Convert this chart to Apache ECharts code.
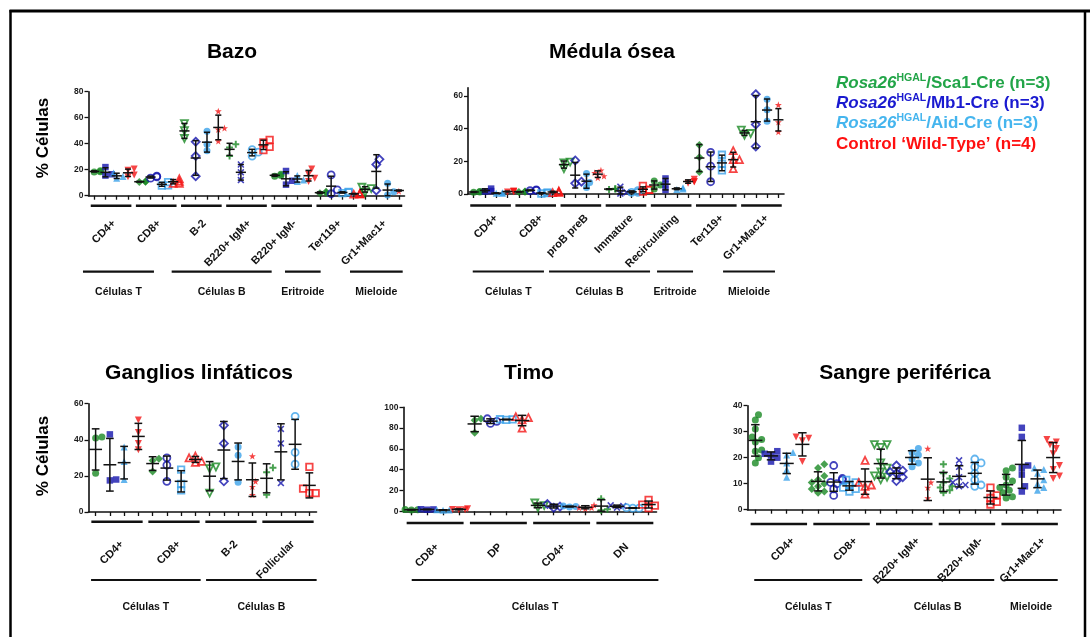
<!DOCTYPE html>
<html>
<head>
<meta charset="utf-8">
<script src="https://cdn.jsdelivr.net/npm/echarts@6/dist/echarts.min.js"></script>
<style>
  html, body { margin: 0; padding: 0; background: #fff; }
  #chart { width: 1090px; height: 637px; }
</style>
</head>
<body>
<div id="chart"></div>
<script>
// ---------- genotypes ----------
const genotypeColors = ['#1a8a24', '#1414ad', '#3ca2ea', '#f41616'];
const legendColors = ['#22a548', '#1a1ad0', '#45b5ee', '#ff1010'];
const legendGenotypes = ['/Sca1-Cre (n=3)', '/Mb1-Cre (n=3)', '/Aid-Cre (n=3)'];
const legendControl = 'Control \u2018Wild-Type\u2019 (n=4)';

// ---------- Bazo ----------
const bazoPopulations = ['CD4+', 'CD8+', 'B-2', 'B220+ IgM+', 'B220+ IgM-', 'Ter119+', 'Gr1+Mac1+'];
const bazoSca1 = [[18.5, 19.2, 18.3], [11, 10.5, 10.8], [55.5, 50, 44], [39.5, 37, 30.5], [16.5, 15.5, 15], [3, 1.8, 2.2], [6.5, 5.5, 2.5]];
const bazoMb1 = [[22, 15.5, 16.5], [15, 13.5, 14.5], [41.5, 30.5, 15], [24, 18, 12], [19, 11.5, 8.5], [16, 4.5, 1.5], [28, 24, 4]];
const bazoAid = [[17.5, 13.5, 14.8], [10.5, 8, 7.8], [49.5, 39.5, 34.5], [35.5, 33.5, 30.5], [15.5, 12, 11], [2.5, 2, 3], [9.5, 3, 0.5]];
const bazoWt = [[20.5, 16, 14.5, 19.5], [13, 11, 9.5, 9.5], [65, 52, 42, 51], [43, 41, 35, 37.5], [20.5, 16.5, 13.5, 11], [1.5, 1.2, 1.8, 1.4], [4, 3.5, 4.5, 4]];
const bazoYTicks = [0, 20, 40, 60, 80];
const bazoLineages = ['Células T', 'Células B', 'Eritroide', 'Mieloide'];
const bazoLineageCols = [[-0.99, 5.3], [6.87, 15.73], [16.91, 20.07], [22.67, 27.34]];

// ---------- Médula ósea ----------
const medPopulations = ['CD4+', 'CD8+', 'proB preB', 'Immature', 'Recirculating', 'Ter119+', 'Gr1+Mac1+'];
const medSca1 = [[1, 1.5, 1.2], [1.5, 1.2, 1.3], [19.5, 19, 15.5], [3, 3.2, 2.8], [8, 5.5, 3], [30, 22.5, 13.5], [39, 37, 36]];
const medMb1 = [[3.3, 1.5, 1.8], [2.5, 2, 2.2], [20.5, 7.5, 6.5], [4.5, 1, 0.3], [9.5, 6, 2.5], [25.5, 17, 7.5], [61, 42.5, 29]];
const medAid = [[0.5, 0.4, 0.7], [0.8, 0.3, 0.6], [12.5, 7, 4], [2, 1, 1], [3.8, 3, 2.8], [24, 18.5, 14.5], [58, 51.5, 44.5]];
const medWt = [[1.8, 1.2, 1.5, 1.4], [1.8, 1, 0.8, 1.3], [14.5, 13, 11, 10], [5, 2.5, 1.5, 2.5], [9, 7.5, 6.5, 7.5], [26.5, 21, 15.5, 21], [54.5, 45, 44, 38]];
const medYTicks = [0, 20, 40, 60];
const medLineages = ['Células T', 'Células B', 'Eritroide', 'Mieloide'];
const medLineageCols = [[-0.08, 6.23], [6.68, 15.63], [16.25, 19.44], [22.1, 26.7]];

// ---------- Ganglios linfáticos ----------
const ganPopulations = ['CD4+', 'CD8+', 'B-2', 'Follicular'];
const ganSca1 = [[41.5, 41, 21.5], [29.5, 28.5, 22.5], [25, 24, 10.5], [24.5, 22, 9.5]];
const ganMb1 = [[43, 17.5, 18], [30, 26, 17], [48, 38, 17], [46, 38, 16]];
const ganAid = [[36, 28, 18], [23.5, 15.5, 12], [36, 31.5, 16.5], [53, 33, 26.5]];
const ganWt = [[51, 44, 38, 34.5], [31, 30, 28, 27.5], [31, 17, 14, 9.5], [25, 13, 10.5, 10.5]];
const ganYTicks = [0, 20, 40, 60];
const ganLineages = ['Células T', 'Células B'];
const ganLineageCols = [[-0.32, 7.37], [7.75, 15.51]];

// ---------- Timo ----------
const timPopulations = ['CD8+', 'DP', 'CD4+', 'DN'];
const timSca1 = [[1.5, 1.2, 1.8], [89, 87.5, 75.5], [8, 5.5, 3.5], [12, 2, 1]];
const timMb1 = [[2, 1.5, 1.8], [89, 86.5, 84.5], [7, 4.5, 3.5], [5.8, 5, 3.5]];
const timAid = [[1, 1.5, 1.2], [88.5, 88, 88.3], [5, 4.2, 4.5], [3.5, 3, 3]];
const timWt = [[2.5, 1.5, 1.8, 1.6], [91, 90, 88, 80], [6, 3.5, 2.5, 3.5], [11, 6.5, 5.5, 3]];
const timYTicks = [0, 20, 40, 60, 80, 100];
const timLineages = ['Células T'];
const timLineageCols = [[0.02, 15.62]];

// ---------- Sangre periférica ----------
const sanPopulations = ['CD4+', 'CD8+', 'B220+ IgM+', 'B220+ IgM-', 'Gr1+Mac1+'];
const sanSca1 = [
  [36.5, 34.5, 31, 28, 27, 26, 23, 22.5, 20, 18],
  [17.5, 16, 13, 11.5, 10.5, 10, 9, 8, 7, 6.5],
  [25, 25, 24, 18, 16, 14.5, 13, 12.5, 11.5],
  [17.5, 14, 12, 10.5, 9, 8.5, 7.5, 6.5],
  [16, 15, 12.5, 11, 9.5, 8.5, 7.5, 6.5, 5, 4.5]
];
const sanMb1 = [
  [22.5, 21.5, 21, 20, 18.5],
  [17, 12, 11.5, 10.5, 10, 8, 5.5],
  [17, 15, 14.5, 14, 12.5, 11],
  [19, 16.5, 12.5, 10.5, 9.5, 9],
  [31.5, 28, 17, 16, 13.5, 9, 7]
];
const sanAid = [
  [22, 21, 18, 15.5, 12.5],
  [11.5, 10.5, 9.5, 8.5, 8, 7],
  [23.5, 22, 21, 19.5, 18, 16.5],
  [19.5, 18, 16.5, 14, 11.5, 9.5, 9],
  [16, 15.5, 14, 11.5, 10, 8.5, 7.5]
];
const sanWt = [
  [28, 27.5, 26.5, 18.5],
  [19, 10.5, 9.5, 9, 6],
  [23.5, 10.5, 8.5, 4.5],
  [8.5, 5.5, 4.5, 3, 2],
  [27, 26, 25, 23.5, 21.5, 17, 15.5, 13, 12]
];
const sanYTicks = [0, 10, 20, 30, 40];
const sanLineages = ['Células T', 'Células B', 'Mieloide'];
const sanLineageCols = [[-0.07, 6.82], [8.02, 15.24], [15.88, 19.29]];

// ---------- styling ----------
const FONT = '"Liberation Sans", Arial, Helvetica, sans-serif';
const INK = '#111';

// marker cycle, one entry per column (repeats every 16 columns)
const INV_TRI = 'path://M0,0L10,0L5,9Z';
const STAR = 'path://M5,0L6.2,3.6L10,3.6L7,5.9L8.1,9.5L5,7.3L1.9,9.5L3,5.9L0,3.6L3.8,3.6Z';
const PLUS = 'path://M3.6,0H6.4V3.6H10V6.4H6.4V10H3.6V6.4H0V3.6H3.6Z';
const CROSS = 'path://M1.6,0L5,3.4L8.4,0L10,1.6L6.6,5L10,8.4L8.4,10L5,6.6L1.6,10L0,8.4L3.4,5L0,1.6Z';
const markers = [
  ['circle', true], ['rect', true], ['triangle', true], [INV_TRI, true],
  ['diamond', true], ['circle', false], ['rect', false], ['triangle', false],
  [INV_TRI, false], ['diamond', false], ['circle', true], [STAR, true],
  [PLUS, true], [CROSS, true], ['circle', false], ['rect', false]
];

const panels = [
  { title: 'Bazo', titlePos: [232, 52], yName: [43, 138],
    populations: bazoPopulations, values: [bazoSca1, bazoMb1, bazoAid, bazoWt],
    yMax: 80, yTicks: bazoYTicks, lineages: bazoLineages, lineageCols: bazoLineageCols,
    grid: { left: 88.5, top: 91.7, width: 316, height: 104 },
    barDy: 10, labelDx: 3, labelDy: 26, lineDy: 76, lineLabelDy: 96 },
  { title: 'Médula ósea', titlePos: [612, 52], yName: null,
    populations: medPopulations, values: [medSca1, medMb1, medAid, medWt],
    yMax: 65, yTicks: medYTicks, lineages: medLineages, lineageCols: medLineageCols,
    grid: { left: 468, top: 87.7, width: 316, height: 106.3 },
    barDy: 11.5, labelDx: 5.5, labelDy: 22.5, lineDy: 77.5, lineLabelDy: 98 },
  { title: 'Ganglios linfáticos', titlePos: [199, 373], yName: [43, 456],
    populations: ganPopulations, values: [ganSca1, ganMb1, ganAid, ganWt],
    yMax: 60, yTicks: ganYTicks, lineages: ganLineages, lineageCols: ganLineageCols,
    grid: { left: 88.5, top: 403.7, width: 228, height: 108.3 },
    barDy: 9.7, labelDx: 5, labelDy: 30.5, lineDy: 68, lineLabelDy: 95 },
  { title: 'Timo', titlePos: [529, 373], yName: null,
    populations: timPopulations, values: [timSca1, timMb1, timAid, timWt],
    yMax: 100, yTicks: timYTicks, lineages: timLineages, lineageCols: timLineageCols,
    grid: { left: 403.5, top: 407.3, width: 253, height: 104 },
    barDy: 11.7, labelDx: 2, labelDy: 34, lineDy: 68.7, lineLabelDy: 95.7 },
  { title: 'Sangre periférica', titlePos: [905, 373], yName: null,
    populations: sanPopulations, values: [sanSca1, sanMb1, sanAid, sanWt],
    yMax: 40, yTicks: sanYTicks, lineages: sanLineages, lineageCols: sanLineageCols,
    grid: { left: 747.5, top: 405.7, width: 313.5, height: 104 },
    barDy: 14.3, labelDx: 14, labelDy: 29.5, lineDy: 70.3, lineLabelDy: 97.3 }
];

// ---------- helpers ----------
function meanSd(v) {
  const m = v.reduce((a, b) => a + b, 0) / v.length;
  const sd = v.length > 1 ? Math.sqrt(v.reduce((a, b) => a + (b - m) * (b - m), 0) / (v.length - 1)) : 0;
  return [m, sd];
}

// spreads overlapping points sideways (scatter-dot-plot layout), result in column units
function swarmOffsets(values, pxPerUnitY, pxPerCol, size) {
  const order = values.map((v, i) => i).sort((a, b) => values[a] - values[b]);
  const placed = [];
  const offs = new Array(values.length).fill(0);
  const minD = size * 0.8;
  const step = size * 0.45;
  const maxOff = pxPerCol * 0.55;
  for (const i of order) {
    const y = values[i] * pxPerUnitY;
    let chosen = 0;
    for (let k = 0; k < 24; k++) {
      const cand = k === 0 ? 0 : (k % 2 ? 1 : -1) * Math.ceil(k / 2) * step;
      if (Math.abs(cand) > maxOff) { chosen = cand > 0 ? maxOff : -maxOff; break; }
      if (placed.every(p => Math.hypot(p.x - cand, p.y - y) >= minD)) { chosen = cand; break; }
    }
    placed.push({ x: chosen, y });
    offs[i] = chosen / pxPerCol;
  }
  return offs;
}

const grids = [], xAxes = [], yAxes = [], series = [], graphics = [];
const SYMBOL_SIZE = 7;

panels.forEach((pn, pi) => {
  const nCols = pn.populations.length * 4;
  const cols = Array.from({ length: nCols }, (_, i) => i);
  grids.push(Object.assign({ containLabel: false }, pn.grid));
  xAxes.push({
    type: 'value', gridIndex: pi, min: -0.5, max: nCols - 0.5,
    axisLine: { show: true, onZero: false, lineStyle: { color: INK, width: 1.6 } },
    axisTick: { show: true, customValues: cols, length: 4, lineStyle: { color: INK, width: 1.3 } },
    axisLabel: { show: false }, splitLine: { show: false }
  });
  yAxes.push({
    type: 'value', gridIndex: pi, min: 0, max: pn.yMax,
    axisLine: { show: true, onZero: false, lineStyle: { color: INK, width: 1.6 } },
    axisTick: { show: true, customValues: pn.yTicks, length: 4, lineStyle: { color: INK, width: 1.3 } },
    axisLabel: { customValues: pn.yTicks, fontSize: 8.5, fontWeight: 'bold', color: '#1a1a1a', fontFamily: FONT, margin: 5 },
    splitLine: { show: false }
  });

  const pxPerUnitY = pn.grid.height / pn.yMax;
  const pxPerCol = pn.grid.width / nCols;
  const stats = [];

  pn.populations.forEach((pop, p) => {
    for (let g = 0; g < 4; g++) {
      const c = p * 4 + g;
      const vals = pn.values[g][p];
      const offs = swarmOffsets(vals, pxPerUnitY, pxPerCol, SYMBOL_SIZE);
      const [sym, filled] = markers[c % markers.length];
      const color = genotypeColors[g];
      stats.push([c].concat(meanSd(vals)));
      series.push({
        type: 'scatter', xAxisIndex: pi, yAxisIndex: pi, silent: true, z: 2,
        symbol: sym,
        symbolSize: sym === 'rect' ? SYMBOL_SIZE - 0.5 : (sym === 'diamond' ? SYMBOL_SIZE + 1 : SYMBOL_SIZE),
        itemStyle: filled ? { color: color }
                          : { color: 'rgba(255,255,255,0)', borderColor: color, borderWidth: 1.8 },
        data: vals.map((v, i) => [c + offs[i], v])
      });
    }
  });

  // mean ± SD
  series.push({
    type: 'custom', xAxisIndex: pi, yAxisIndex: pi, silent: true, z: 4,
    data: stats,
    renderItem: (params, api) => {
      const c = api.value(0), m = api.value(1), s = api.value(2);
      const band = api.size([1, 0])[0];
      const pm = api.coord([c, m]);
      const pt = api.coord([c, Math.min(pn.yMax, m + s)]);
      const pb = api.coord([c, Math.max(0, m - s)]);
      const cap = band * 0.27, half = band * 0.45;
      const st = { stroke: INK, lineWidth: 1.5 };
      return { type: 'group', children: [
        { type: 'line', shape: { x1: pm[0], y1: pt[1], x2: pm[0], y2: pb[1] }, style: st },
        { type: 'line', shape: { x1: pm[0] - cap, y1: pt[1], x2: pm[0] + cap, y2: pt[1] }, style: st },
        { type: 'line', shape: { x1: pm[0] - cap, y1: pb[1], x2: pm[0] + cap, y2: pb[1] }, style: st },
        { type: 'line', shape: { x1: pm[0] - half, y1: pm[1], x2: pm[0] + half, y2: pm[1] }, style: st }
      ] };
    }
  });

  // population brackets and rotated names
  series.push({
    type: 'custom', xAxisIndex: pi, yAxisIndex: pi, silent: true, z: 5,
    data: pn.populations.map((n, p) => [p * 4, p * 4 + 3]),
    renderItem: (params, api) => {
      const band = api.size([1, 0])[0];
      const pa = api.coord([api.value(0), 0]);
      const pb = api.coord([api.value(1), 0]);
      const y = pa[1] + pn.barDy;
      const cx = (pa[0] + pb[0]) / 2;
      return { type: 'group', children: [
        { type: 'line', shape: { x1: pa[0] - 0.3 * band, y1: y, x2: pb[0] + 0.3 * band, y2: y },
          style: { stroke: INK, lineWidth: 2.6 } },
        { type: 'text', x: cx + pn.labelDx, y: pa[1] + pn.labelDy, rotation: Math.PI / 4,
          style: { text: pn.populations[params.dataIndex], align: 'right', verticalAlign: 'middle',
                   fontFamily: FONT, fontWeight: 'bold', fontSize: 11, fill: INK } }
      ] };
    }
  });

  // lineage brackets
  series.push({
    type: 'custom', xAxisIndex: pi, yAxisIndex: pi, silent: true, z: 5,
    data: pn.lineageCols.map(r => [r[0], r[1]]),
    renderItem: (params, api) => {
      const pa = api.coord([api.value(0), 0]);
      const pb = api.coord([api.value(1), 0]);
      const y = pa[1] + pn.lineDy;
      return { type: 'group', children: [
        { type: 'line', shape: { x1: pa[0], y1: y, x2: pb[0], y2: y }, style: { stroke: INK, lineWidth: 2.2 } },
        { type: 'text', x: (pa[0] + pb[0]) / 2, y: pa[1] + pn.lineLabelDy,
          style: { text: pn.lineages[params.dataIndex], align: 'center', verticalAlign: 'middle',
                   fontFamily: FONT, fontWeight: 'bold', fontSize: 10.5, fill: INK } }
      ] };
    }
  });

  graphics.push({ type: 'text', x: pn.titlePos[0], y: pn.titlePos[1],
    style: { text: pn.title, align: 'center', verticalAlign: 'middle', fontFamily: FONT,
             fontWeight: 'bold', fontSize: 21, fill: '#000' } });
  if (pn.yName) {
    graphics.push({ type: 'text', x: pn.yName[0], y: pn.yName[1], rotation: Math.PI / 2,
      style: { text: '% Células', align: 'center', verticalAlign: 'middle', fontFamily: FONT,
               fontWeight: 'bold', fontSize: 17, fill: '#000' } });
  }
});

// legend
const legendRows = [83, 103, 123, 144];
legendGenotypes.forEach((txt, i) => {
  const col = legendColors[i];
  graphics.push({ type: 'text', x: 836, y: legendRows[i],
    style: {
      text: '{i|Rosa26}{s|HGAL}{t|' + txt + '}', verticalAlign: 'middle', align: 'left',
      rich: {
        i: { fontFamily: FONT, fontStyle: 'italic', fontWeight: 'bold', fontSize: 17, fill: col, color: col, lineHeight: 20 },
        s: { fontFamily: FONT, fontWeight: 'bold', fontSize: 10.5, fill: col, color: col, lineHeight: 12, verticalAlign: 'top' },
        t: { fontFamily: FONT, fontWeight: 'bold', fontSize: 17, fill: col, color: col, lineHeight: 20 }
      }
    } });
});
graphics.push({ type: 'text', x: 836, y: legendRows[3],
  style: { text: legendControl, verticalAlign: 'middle', align: 'left', fontFamily: FONT,
           fontWeight: 'bold', fontSize: 17, fill: legendColors[3] } });

// page frame
graphics.push(
  { type: 'line', shape: { x1: 9.5, y1: 11, x2: 1090, y2: 11 }, style: { stroke: '#000', lineWidth: 3 } },
  { type: 'line', shape: { x1: 10.5, y1: 10, x2: 10.5, y2: 637 }, style: { stroke: '#000', lineWidth: 2.5 } },
  { type: 'line', shape: { x1: 1085, y1: 10, x2: 1085, y2: 637 }, style: { stroke: '#000', lineWidth: 2.5 } }
);

const chart = echarts.init(document.getElementById('chart'), null, { renderer: 'canvas' });
chart.setOption({
  animation: false,
  backgroundColor: '#fff',
  grid: grids,
  xAxis: xAxes,
  yAxis: yAxes,
  series: series,
  graphic: { elements: graphics }
});
</script>
</body>
</html>
